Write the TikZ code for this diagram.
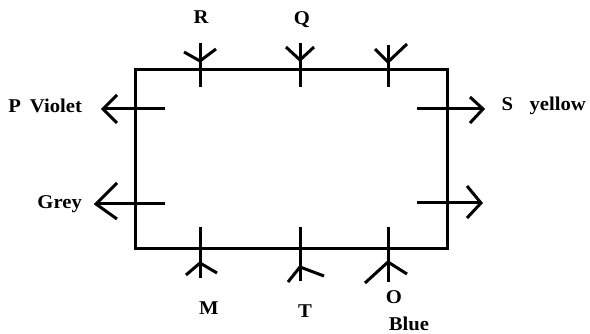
\documentclass[tikz,border=0pt]{standalone}
\usepackage{fontspec}
\setmainfont{Liberation Serif}[FakeStretch=1.06]
\begin{document}
\begin{tikzpicture}[x=1pt,y=-1pt,line width=3pt,
  lbl/.style={font=\bfseries\fontsize{19.5}{19.5}\selectfont,inner sep=0pt,text=black},
  ln/.style={draw=black,line width=3pt}]
\useasboundingbox (0,0) rectangle (590,334);
% box
\draw[ln] (135,70) rectangle (447,249);
% top sticks
\coordinate (r1) at (200,43); \coordinate (r2) at (200,87);
\draw[ln] (r1) -- (r2); \draw[ln] (184,52) -- (200,61) -- (216,49);
\coordinate (q1) at (300,43); \coordinate (q2) at (300,87);
\draw[ln] (q1) -- (q2); \draw[ln] (286,47) -- (300,60) -- (314,47);
\coordinate (u1) at (388,45); \coordinate (u2) at (388,87);
\draw[ln] (u1) -- (u2); \draw[ln] (375,49) -- (388,62) -- (407,44);
% bottom sticks
\coordinate (m1) at (200,227); \coordinate (m2) at (200,278);
\draw[ln] (m1) -- (m2); \draw[ln] (186,275) -- (200,263) -- (217,273);
\coordinate (t1) at (300,227); \coordinate (t2) at (300,281);
\draw[ln] (t1) -- (t2); \draw[ln] (288,282) -- (300,267) -- (324,276);
\coordinate (o1) at (388,227); \coordinate (o2) at (388,282);
\draw[ln] (o1) -- (o2); \draw[ln] (365,283) -- (388,262) -- (407,274);
% left arrows
\coordinate (p1) at (165,109); \coordinate (p2) at (103,109);
\draw[ln] (p1) -- (p2); \draw[ln] (117,95) -- (p2) -- (117,123);
\coordinate (g1) at (165,204); \coordinate (g2) at (96,204);
\draw[ln] (g1) -- (g2); \draw[ln] (117,183) -- (g2) -- (117,219);
% right arrows
\coordinate (s1) at (417,109); \coordinate (s2) at (483,109);
\draw[ln] (s1) -- (s2); \draw[ln] (470,97) -- (s2) -- (470,123);
\coordinate (w1) at (417,203); \coordinate (w2) at (481,203);
\draw[ln] (w1) -- (w2); \draw[ln] (467,186) -- (w2) -- (467,218);
% labels
\node[lbl] (R) at (201,17) {R};
\node[lbl] (Q) at (302,20) {Q};
\node[lbl,anchor=base west] (P) at (7,113) {P\hspace{0.45em}Violet};
\node[lbl,anchor=base west] (G) at (36,209) {Grey};
\node[lbl,anchor=base west] (S) at (500,111) {S\hspace{0.85em}yellow};
\node[lbl] (M) at (209,308) {M};
\node[lbl] (T) at (305,311) {T};
\node[lbl] (O) at (394,297) {O};
\node[lbl] (B) at (409,324) {Blue};
\end{tikzpicture}
\end{document}
